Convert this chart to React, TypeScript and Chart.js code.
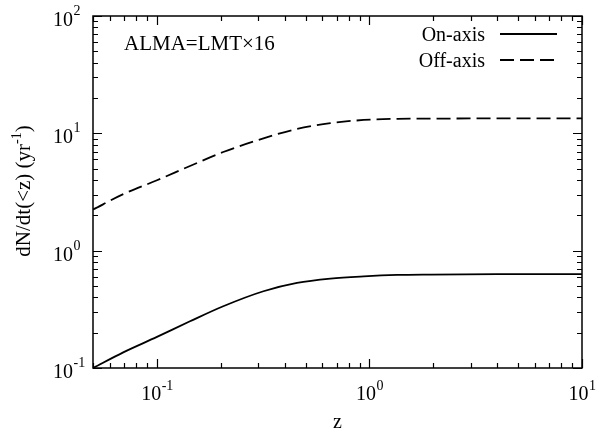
import React, { useEffect, useRef } from "react";
import { Chart, registerables } from "chart.js";

Chart.register(...registerables);

// redshift samples
const zValues = [0.05, 0.0694, 0.1, 0.143, 0.205, 0.317, 0.456, 0.655, 0.94, 1.35, 1.94, 4, 10];
// cumulative event rate, on-axis
const onAxis = [0.1, 0.136, 0.184, 0.25, 0.336, 0.451, 0.531, 0.578, 0.604, 0.621, 0.626, 0.63, 0.63];
// cumulative event rate, off-axis
const offAxis = [2.24, 3.03, 3.98, 5.27, 6.93, 9.06, 10.9, 12.2, 13.0, 13.3, 13.35, 13.4, 13.4];

const seriesNames = ["On-axis", "Off-axis"];
const xMajorTicks = [0.1, 1, 10];
const xTickExps = ["-1", "0", "1"];
const yMajorTicks = [0.1, 1, 10, 100];
const yTickExps = ["-1", "0", "1", "2"];
const annotation = "ALMA=LMT×16";

const FONT = '"Liberation Serif", "DejaVu Serif", serif';

function minorValues(min: number, max: number): number[] {
  const out: number[] = [];
  for (let d = Math.floor(Math.log10(min)); d <= Math.ceil(Math.log10(max)); d++) {
    for (let m = 1; m <= 9; m++) {
      const v = m * Math.pow(10, d);
      if (v >= min * 0.9999 && v <= max * 1.0001) out.push(v);
    }
  }
  return out;
}

const framePlugin = {
  id: "framePlugin",
  afterDraw(chart: any) {
    const ctx = chart.ctx as CanvasRenderingContext2D;
    const { left, right, top, bottom } = chart.chartArea;
    const xs = chart.scales.x;
    const ys = chart.scales.y;
    ctx.save();
    ctx.strokeStyle = "#000";
    ctx.fillStyle = "#000";
    ctx.lineWidth = 1.5;
    ctx.strokeRect(left, top, right - left, bottom - top);

    ctx.lineWidth = 1.2;
    const major = 9;
    const minor = 5;
    // x ticks
    for (const v of minorValues(xs.min, xs.max)) {
      const px = Math.round(xs.getPixelForValue(v)) + 0.5;
      const isMajor = xMajorTicks.some((m) => Math.abs(m - v) / m < 1e-6);
      const len = isMajor ? major : minor;
      ctx.beginPath();
      ctx.moveTo(px, bottom);
      ctx.lineTo(px, bottom - len);
      ctx.moveTo(px, top);
      ctx.lineTo(px, top + len);
      ctx.stroke();
    }
    // y ticks
    for (const v of minorValues(ys.min, ys.max)) {
      const py = Math.round(ys.getPixelForValue(v)) + 0.5;
      const isMajor = yMajorTicks.some((m) => Math.abs(m - v) / m < 1e-6);
      const len = isMajor ? major : minor;
      ctx.beginPath();
      ctx.moveTo(left, py);
      ctx.lineTo(left + len, py);
      ctx.moveTo(right, py);
      ctx.lineTo(right - len, py);
      ctx.stroke();
    }

    const mainFont = `20px ${FONT}`;
    const supFont = `14px ${FONT}`;
    ctx.textBaseline = "alphabetic";
    ctx.textAlign = "left";
    // x tick labels
    xMajorTicks.forEach((v, i) => {
      const px = xs.getPixelForValue(v);
      ctx.font = mainFont;
      const w1 = ctx.measureText("10").width;
      ctx.font = supFont;
      const w2 = ctx.measureText(xTickExps[i]).width;
      const x0 = px - (w1 + w2) / 2;
      ctx.font = mainFont;
      ctx.fillText("10", x0, bottom + 31.5);
      ctx.font = supFont;
      ctx.fillText(xTickExps[i], x0 + w1 + 0.5, bottom + 22);
    });
    // y tick labels
    yMajorTicks.forEach((v, i) => {
      const py = ys.getPixelForValue(v);
      ctx.font = mainFont;
      const w1 = ctx.measureText("10").width;
      const x0 = left - 20 - w1;
      ctx.fillText("10", x0, py + 10);
      ctx.font = supFont;
      ctx.fillText(yTickExps[i], left - 20 + 0.5, py - 1);
    });

    // x axis title
    ctx.font = mainFont;
    ctx.textAlign = "center";
    ctx.fillText("z", (left + right) / 2, bottom + 60);

    // y axis title (rotated)
    const titleFont = `21px ${FONT}`;
    const p1 = "dN/dt(<z) (yr";
    const p2 = "-1";
    const p3 = ")";
    ctx.font = titleFont;
    const a = ctx.measureText(p1).width;
    const c = ctx.measureText(p3).width;
    ctx.font = supFont;
    const b = ctx.measureText(p2).width;
    const total = a + b + c;
    ctx.save();
    ctx.translate(30, (top + bottom) / 2 - 1);
    ctx.rotate(-Math.PI / 2);
    ctx.textAlign = "left";
    let cx = -total / 2;
    ctx.font = titleFont;
    ctx.fillText(p1, cx, 0);
    cx += a;
    ctx.font = supFont;
    ctx.fillText(p2, cx, -9);
    cx += b;
    ctx.font = titleFont;
    ctx.fillText(p3, cx, 0);
    ctx.restore();

    // annotation
    ctx.font = `21px ${FONT}`;
    ctx.textAlign = "left";
    ctx.fillText(annotation, left + 31, top + 34);

    // legend
    const legX = 485;
    const rows = [
      { y: 34, dash: [] as number[] },
      { y: 60, dash: [14, 6] },
    ];
    rows.forEach((r, i) => {
      ctx.font = mainFont;
      ctx.textAlign = "right";
      ctx.fillText(seriesNames[i], legX, r.y + 7);
      ctx.lineWidth = 1.8;
      ctx.setLineDash(r.dash);
      ctx.beginPath();
      ctx.moveTo(legX + 15, r.y);
      ctx.lineTo(legX + 72, r.y);
      ctx.stroke();
      ctx.setLineDash([]);
    });
    ctx.restore();
  },
};

export default function App() {
  const ref = useRef<HTMLCanvasElement | null>(null);
  useEffect(() => {
    document.body.style.margin = "0";
    document.body.style.background = "#fff";
    const canvas = ref.current!;
    const chart = new Chart(canvas, {
      type: "line",
      data: {
        datasets: [
          {
            label: seriesNames[0],
            data: zValues.map((z, i) => ({ x: z, y: onAxis[i] })),
            borderColor: "#000",
            borderWidth: 1.8,
            pointRadius: 0,
            cubicInterpolationMode: "monotone",
            fill: false,
          },
          {
            label: seriesNames[1],
            data: zValues.map((z, i) => ({ x: z, y: offAxis[i] })),
            borderColor: "#000",
            borderWidth: 1.8,
            borderDash: [14, 6],
            pointRadius: 0,
            cubicInterpolationMode: "monotone",
            fill: false,
          },
        ],
      },
      options: {
        animation: false,
        responsive: false,
        devicePixelRatio: 1,
        layout: { padding: { left: 93, right: 15, top: 16, bottom: 67 } },
        plugins: { legend: { display: false }, tooltip: { enabled: false } },
        scales: {
          x: { type: "logarithmic", min: 0.05, max: 10, display: false },
          y: { type: "logarithmic", min: 0.1, max: 100, display: false },
        },
      },
      plugins: [framePlugin],
    });
    return () => chart.destroy();
  }, []);
  return (
    <div style={{ position: "absolute", left: 0, top: 0, width: 597, height: 435, background: "#fff" }}>
      <canvas ref={ref} width={597} height={435} style={{ display: "block" }} />
    </div>
  );
}
